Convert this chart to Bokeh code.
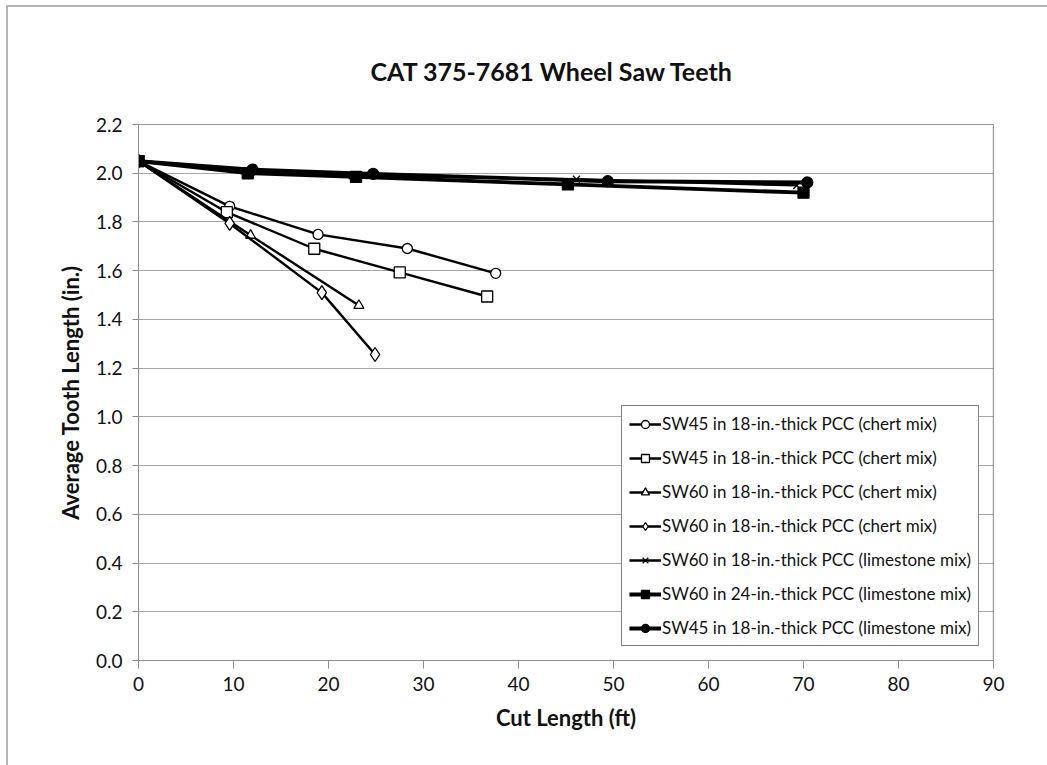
from bokeh.plotting import figure
from bokeh.models import Legend, LegendItem, Span, FixedTicker, NumeralTickFormatter, Range1d
from bokeh.embed import file_html
from bokeh.resources import INLINE

# ---- data ----
labels = [
    "SW45 in 18-in.-thick PCC (chert mix)",
    "SW45 in 18-in.-thick PCC (chert mix)",
    "SW60 in 18-in.-thick PCC (chert mix)",
    "SW60 in 18-in.-thick PCC (chert mix)",
    "SW60 in 18-in.-thick PCC (limestone mix)",
    "SW60 in 24-in.-thick PCC (limestone mix)",
    "SW45 in 18-in.-thick PCC (limestone mix)",
]
s1_x = [0, 9.6, 18.9, 28.3, 37.6]
s1_y = [2.05, 1.864, 1.749, 1.691, 1.589]
s2_x = [0, 9.3, 18.5, 27.5, 36.7]
s2_y = [2.05, 1.84, 1.69, 1.593, 1.494]
s3_x = [0, 11.8, 23.2]
s3_y = [2.05, 1.745, 1.457]
s4_x = [0, 9.6, 19.3, 24.9]
s4_y = [2.05, 1.794, 1.51, 1.256]
s5_x = [0, 11.2, 22.5, 46.1, 69.3]
s5_y = [2.05, 2.01, 1.99, 1.975, 1.95]
s6_x = [0, 11.5, 22.9, 45.2, 70.0]
s6_y = [2.05, 2.0, 1.985, 1.954, 1.92]
s7_x = [0, 12.0, 24.7, 49.4, 70.4]
s7_y = [2.05, 2.015, 1.997, 1.967, 1.962]
x_ticks = [0, 10, 20, 30, 40, 50, 60, 70, 80, 90]
y_ticks = [0.0, 0.2, 0.4, 0.6, 0.8, 1.0, 1.2, 1.4, 1.6, 1.8, 2.0, 2.2]

FONT = "Lato"

p = figure(width=1047, height=765, output_backend="svg", toolbar_location=None,
           x_range=Range1d(0, 90), y_range=Range1d(0, 2.2),
           min_border_left=138, min_border_right=54, min_border_top=124, min_border_bottom=105,
           frame_width=855, frame_height=536,
           title="CAT 375-7681 Wheel Saw Teeth")
p.background_fill_color = "white"
p.border_fill_color = "white"
p.border_fill_alpha = 0
p.outline_line_color = None
# outer chart border: only its left and top edges are visible
p.styles = {
    "background-color": "white",
    "background-image": "linear-gradient(#b4b4b4, #b4b4b4), linear-gradient(#b4b4b4, #b4b4b4)",
    "background-position": "6px 5px, 6px 5px",
    "background-size": "2px 100%, 100% 2px",
    "background-repeat": "no-repeat",
}

p.title.align = "left"
p.title.offset = 232
p.title.text_font = FONT
p.title.text_font_size = "25px"
p.title.text_font_style = "bold"
p.title.text_color = "#111111"
p.title.standoff = 78

for ax in (p.xaxis[0], p.yaxis[0]):
    ax.axis_line_color = "#8c8c8c"
    ax.major_tick_line_color = "#8c8c8c"
    ax.minor_tick_line_color = None
    ax.major_tick_in = 0
    ax.major_label_text_font = FONT
    ax.major_label_text_font_size = "19px"
    ax.major_label_text_color = "#111111"
    ax.axis_label_text_font = FONT
    ax.axis_label_text_font_size = "22px"
    ax.axis_label_text_font_style = "bold"
    ax.axis_label_text_color = "#111111"

p.xaxis.ticker = FixedTicker(ticks=x_ticks)
p.yaxis.ticker = FixedTicker(ticks=y_ticks)
p.yaxis.formatter = NumeralTickFormatter(format="0.0")
p.xaxis.major_tick_out = 8
p.yaxis.major_tick_out = 6
p.xaxis.axis_label = "Cut Length (ft)"
p.yaxis.axis_label = "Average Tooth Length (in.)"
p.xaxis.major_label_standoff = 8
p.yaxis.major_label_standoff = 10
p.xaxis.axis_label_standoff = 10
p.yaxis.axis_label_standoff = 9

p.xgrid.grid_line_color = None
p.ygrid.grid_line_color = "#a6a6a6"
p.ygrid.grid_line_width = 1.2

# plot frame top and right borders
p.add_layout(Span(location=2.2, dimension="width", line_color="#333333", line_width=1.2))
p.add_layout(Span(location=90, dimension="height", line_color="#333333", line_width=1.2))

series = [
    (s1_x, s1_y, "circle", "white", 10, 2.4),
    (s2_x, s2_y, "square", "white", 11, 2.4),
    (s3_x, s3_y, "triangle", "white", 10, 2.4),
    (s4_x, s4_y, "diamond", "white", 14, 2.4),
    (s5_x, s5_y, "x", "black", 10, 2.4),
    (s6_x, s6_y, "square", "black", 11, 3.8),
    (s7_x, s7_y, "circle", "black", 11, 3.8),
]

items = []
for (xs, ys, mk, fill, size, lw), lab in zip(series, labels):
    r1 = p.line(xs, ys, line_color="black", line_width=lw)
    r2 = p.scatter(xs, ys, marker=mk, size=size, fill_color=fill,
                   line_color="black", line_width=1.3)
    items.append(LegendItem(label=lab, renderers=[r1, r2]))

legend = Legend(items=items, location="bottom_right")
legend.label_text_font = FONT
legend.label_text_font_size = "17px"
legend.label_text_color = "#111111"
legend.glyph_width = 32
legend.glyph_height = 20
legend.label_height = 20
legend.spacing = 13
legend.padding = 7
legend.margin = 14
legend.label_standoff = 1
legend.border_line_color = "black"
legend.border_line_width = 1.5
legend.background_fill_alpha = 1
p.add_layout(legend)

open("out.html", "w").write(file_html(p, INLINE))
